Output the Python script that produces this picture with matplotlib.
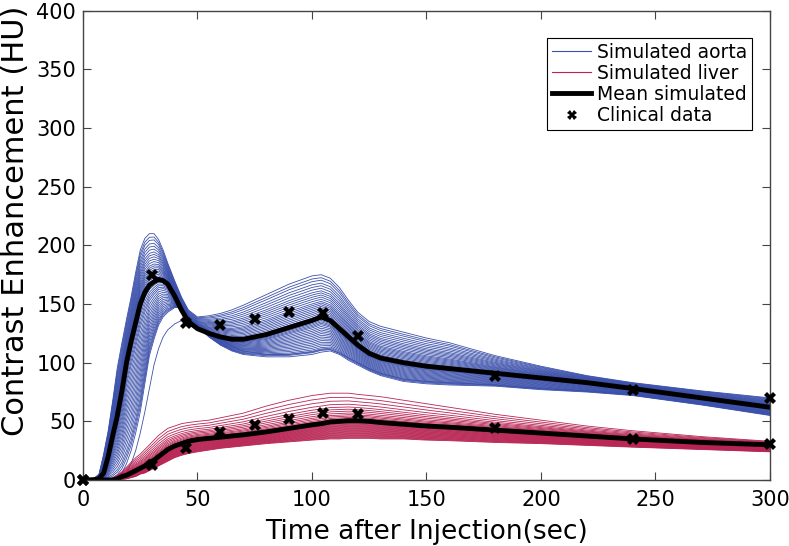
import matplotlib
matplotlib.use("Agg")
import matplotlib.pyplot as plt
import numpy as np

# simulation time grid (sec)
t_sim = [0, 4, 7, 9, 11, 13, 15, 17, 19, 21, 23, 25, 27, 29, 31, 33, 35, 37, 40, 43,
         46, 50, 55, 60, 65, 70, 80, 90, 100, 104, 108, 112, 116, 120, 125, 130, 140,
         150, 160, 180, 200, 220, 240, 270, 300]

# aorta: mean simulated curve and upper / lower edge of the simulated band (HU)
aorta_mean = [0, 0, 1, 6, 20, 38, 55, 76, 100, 118, 134, 150, 160, 166, 169, 171, 170, 167, 157, 145,
              135, 129, 125, 122, 120, 120, 124, 130, 136, 139, 136, 129, 122, 115, 108, 104, 100,
              97, 95, 91, 87, 83, 78, 70, 62]
aorta_upper = [0, 0, 5, 22, 42, 68, 96, 117, 137, 156, 177, 196, 206, 210, 210, 205, 196, 185, 170, 156,
               145, 139, 140, 142, 145, 149, 158, 167, 174, 175, 172, 164, 153, 143, 135, 131, 126,
               121, 117, 106, 97, 89, 83, 76, 70]
aorta_lower = [0, 0, 0, 0, 0, 0, 2, 6, 14, 25, 40, 58, 82, 106, 120, 132, 139, 143, 147, 147,
               140, 131, 122, 115, 110, 107, 105, 105, 107, 109, 110, 107, 102, 98, 93, 89, 84,
               82, 81, 80, 77, 75, 72, 64, 55]
# one late-peaking aorta run
aorta_late = [0, 0, 0, 0, 0, 0, 0, 2, 6, 14, 25, 40, 58, 78, 98, 112, 122, 128, 133, 136,
              136, 133, 127, 120, 114, 110, 107, 107, 109, 111, 111, 108, 104, 100, 95, 91, 86,
              84, 83, 81, 78, 76, 73, 66, 57]

# liver
liver_mean = [0, 0, 0, 0, 0, 0, 1, 3, 4, 6, 8, 10, 12, 15, 17, 20, 23, 26, 29, 31,
              33, 34.5, 35.5, 36.5, 37.5, 38.5, 41, 44, 47, 48, 49.5, 50, 50.5, 50.5, 50, 49, 47.5,
              46, 45, 42.5, 40, 37.5, 35, 32, 30]
liver_upper = [0, 0, 0, 0, 0, 2, 4, 7, 11, 15, 19, 22, 26, 30, 34, 38, 41, 44, 46, 48,
               49, 50, 51, 53, 55, 57, 63, 68, 72, 73, 74, 74, 74, 73, 72, 71, 68,
               65, 62, 56, 51, 46, 42, 37, 33]
liver_lower = [0, 0, 0, 0, 0, 0, 0, 0.5, 1, 2, 3, 5, 6, 8, 10, 12, 14, 16, 19, 21,
               22.5, 24, 25.5, 27, 28, 29, 31, 32.5, 34, 34.5, 35, 35, 35.5, 35.5, 35.5, 35, 35,
               34, 33.5, 32, 31, 29.5, 28, 26, 24]

# position of each simulated run inside the band (-1 = lower edge, 0 = mean, 1 = upper edge)
aorta_w = [1.0, 0.93, 0.87, 0.8, 0.74, 0.68, 0.62, 0.57, 0.52, 0.47, 0.42, 0.37, 0.33, 0.29,
           0.25, 0.21, 0.17, 0.13, 0.09, 0.05, 0.02, -0.02, -0.06, -0.1, -0.14, -0.18, -0.22,
           -0.27, -0.32, -0.37, -0.42, -0.47, -0.52, -0.57, -0.62, -0.67, -0.72, -0.77, -0.82,
           -0.87, -0.91, -0.95, -1.0]
liver_w = [1.0, 0.85, 0.72, 0.6, 0.5, 0.42, 0.35, 0.28, 0.22, 0.17, 0.12, 0.08, 0.04, 0.0,
           -0.04, -0.08, -0.12, -0.16, -0.2, -0.24, -0.28, -0.32, -0.36, -0.4, -0.44, -0.48,
           -0.52, -0.56, -0.6, -0.64, -0.68, -0.72, -0.76, -0.8, -0.84, -0.88, -0.92, -0.96, -1.0]

# clinical data
t_clin = [0, 30, 45, 60, 75, 90, 105, 120, 180, 240, 300]
aorta_clin = [0, 175, 134, 132, 137, 143, 142, 123, 89, 77, 70]
liver_clin = [0, 13, 27, 41, 47, 52, 57, 56, 44, 35, 31]

blue = '#3b50ab'
red = '#b82454'


def band_curve(mean, upper, lower, w):
    mean = np.array(mean, float)
    if w >= 0:
        return mean + w * (np.array(upper, float) - mean)
    return mean + w * (mean - np.array(lower, float))


fig = plt.figure(figsize=(7.89, 5.46), dpi=100)
ax = fig.add_axes([0.1052, 0.1209, 0.8707, 0.8593])

for w in aorta_w:
    ax.plot(t_sim, band_curve(aorta_mean, aorta_upper, aorta_lower, w), color=blue, lw=0.6)
ax.plot(t_sim, aorta_late, color=blue, lw=0.6)
for w in liver_w:
    ax.plot(t_sim, band_curve(liver_mean, liver_upper, liver_lower, w), color=red, lw=0.6)

ax.plot(t_sim, aorta_mean, color='black', lw=3.5)
ax.plot(t_sim, liver_mean, color='black', lw=3.5)
ax.plot(t_clin, aorta_clin, 'X', color='black', ms=8, mew=0, clip_on=False, zorder=5)
ax.plot(t_clin, liver_clin, 'X', color='black', ms=8, mew=0, clip_on=False, zorder=5)

# legend proxies
h1, = ax.plot([], [], color=blue, lw=0.8)
h2, = ax.plot([], [], color=red, lw=0.8)
h3, = ax.plot([], [], color='black', lw=3.5)
h4, = ax.plot([], [], 'X', color='black', ms=7, mew=0)
leg = ax.legend([h1, h2, h3, h4],
                ['Simulated aorta', 'Simulated liver', 'Mean simulated', 'Clinical data'],
                loc='upper right', bbox_to_anchor=(0.9738, 0.9424), borderaxespad=0,
                fontsize=13.5, handlelength=2.1, handletextpad=0.3, labelspacing=0.12,
                borderpad=0.25, fancybox=False, framealpha=1, edgecolor='black')
leg.get_frame().set_linewidth(0.8)

ax.set_xlim(0, 300)
ax.set_ylim(0, 400)
ax.set_xticks(np.arange(0, 301, 50))
ax.set_yticks(np.arange(0, 401, 50))
ax.tick_params(direction='in', length=6, top=True, right=True, labelsize=15,
               color='#444444')
ax.tick_params(axis='x', pad=7)
ax.tick_params(axis='y', pad=5)
for s in ax.spines.values():
    s.set_color('#444444')
    s.set_linewidth(1)

ax.set_xlabel('Time after Injection(sec)', fontsize=19, labelpad=7)
ax.set_ylabel('Contrast Enhancement (HU)', fontsize=22)
ax.yaxis.set_label_coords(-0.077, 0.552)

plt.savefig("out.png", dpi=100)
